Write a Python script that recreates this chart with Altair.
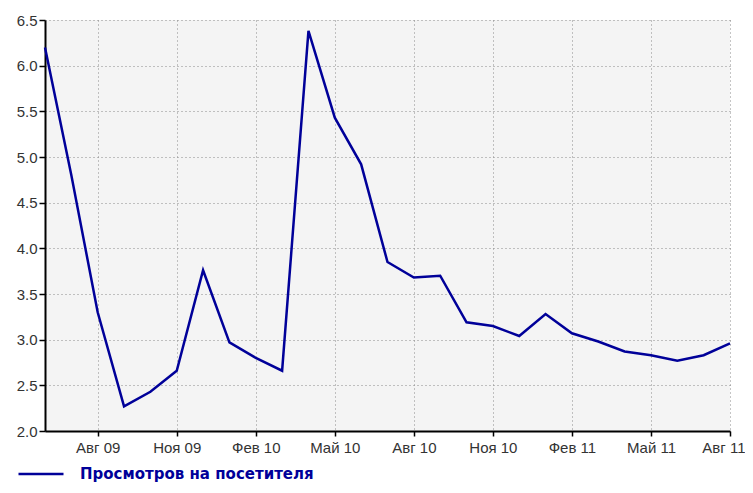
import json
import altair as alt
import pandas as pd

months = ["Июн 09", "Июл 09", "Авг 09", "Сен 09", "Окт 09", "Ноя 09", "Дек 09",
          "Янв 10", "Фев 10", "Мар 10", "Апр 10", "Май 10", "Июн 10", "Июл 10",
          "Авг 10", "Сен 10", "Окт 10", "Ноя 10", "Дек 10", "Янв 11", "Фев 11",
          "Мар 11", "Апр 11", "Май 11", "Июн 11", "Июл 11", "Авг 11"]
values = [6.20, 4.80, 3.30, 2.27, 2.43, 2.66, 3.76,
          2.97, 2.80, 2.66, 6.38, 5.43, 4.92, 3.85,
          3.68, 3.70, 3.19, 3.15, 3.04, 3.28, 3.07,
          2.98, 2.87, 2.83, 2.77, 2.83, 2.96]
series_name = "Просмотров на посетителя"
tick_months = ["Авг 09", "Ноя 09", "Фев 10", "Май 10", "Авг 10", "Ноя 10", "Фев 11", "Май 11", "Авг 11"]
y_ticks = [2.0, 2.5, 3.0, 3.5, 4.0, 4.5, 5.0, 5.5, 6.0, 6.5]

df = pd.DataFrame({
    "idx": list(range(len(months))),
    "month": months,
    "value": values,
    "series": [series_name] * len(months),
})

tick_idx = [months.index(m) for m in tick_months]
label_expr = json.dumps(months, ensure_ascii=False) + "[datum.value]"

line_color = "#000099"
font = "Liberation Sans"

chart = alt.Chart(df).mark_line(strokeWidth=2.5).encode(
    x=alt.X("idx:Q",
            scale=alt.Scale(domain=[0, len(months) - 1], nice=False, zero=False),
            axis=alt.Axis(values=tick_idx, labelExpr=label_expr, title=None,
                          grid=True, gridDash=[1, 3], gridColor="#8a8a8a", gridWidth=1,
                          domainColor="black", domainWidth=2,
                          tickColor="black", tickSize=5, tickWidth=1.5,
                          labelFont=font, labelFontSize=15, labelColor="#333333",
                          labelPadding=4, labelFlush=True, labelFlushOffset=15,
                          labelOverlap=False)),
    y=alt.Y("value:Q",
            scale=alt.Scale(domain=[2.0, 6.5], nice=False, zero=False),
            axis=alt.Axis(values=y_ticks, format=".1f", title=None,
                          grid=True, gridDash=[1, 3], gridColor="#8a8a8a", gridWidth=1,
                          domainColor="black", domainWidth=2,
                          tickColor="black", tickSize=6, tickWidth=1.5,
                          labelFont=font, labelFontSize=15, labelColor="#333333",
                          labelPadding=2, labelFlush=False, labelOverlap=False)),
    color=alt.Color("series:N",
                    scale=alt.Scale(range=[line_color]),
                    legend=alt.Legend(title=None, orient="none", legendX=-28, legendY=430,
                                      symbolType="stroke", symbolSize=2025,
                                      symbolStrokeWidth=2.5, symbolStrokeColor=line_color,
                                      labelFont="DejaVu Sans", labelFontSize=15,
                                      labelFontWeight="bold", labelColor=line_color,
                                      labelOffset=15, labelLimit=500, padding=0)),
).properties(
    width=685,
    height=411,
    autosize=alt.AutoSizeParams(type="none"),
    padding={"left": 37, "top": 12, "right": 15, "bottom": 54},
    background="white",
).configure_view(
    fill="#f4f4f4",
    stroke=None,
)

chart.save("out.html", embed_options={"renderer": "svg", "actions": False})
